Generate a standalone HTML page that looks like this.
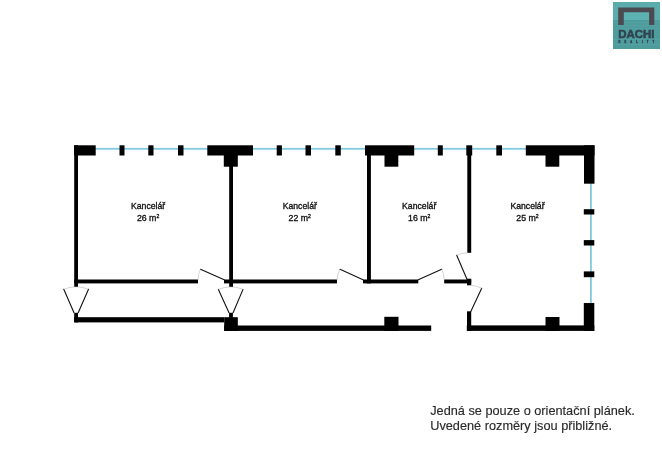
<!DOCTYPE html>
<html lang="cs">
<head>
<meta charset="utf-8">
<title>Půdorys – orientační plánek</title>
<style>
html,body{margin:0;padding:0;background:#fff;}
body{width:662px;height:468px;overflow:hidden;position:relative;font-family:"Liberation Sans",sans-serif;}
svg{position:absolute;left:0;top:0;display:block;}
.room,.note{filter:blur(0.3px);}
text{font-family:"Liberation Sans",sans-serif;}
.room{font-size:8.5px;fill:#111;stroke:#111;stroke-width:0.32px;text-anchor:middle;}
.note{font-size:12.74px;fill:#2a2a2a;stroke:#2a2a2a;stroke-width:0.15px;}
</style>
</head>
<body>
<svg width="662" height="468" viewBox="0 0 662 468">
<rect width="662" height="468" fill="#fff"/>

<!-- windows -->
<g fill="#82cadd">
<rect x="95" y="147.9" width="431" height="1.8"/>
<rect x="590" y="183" width="1.8" height="121"/>
</g>

<!-- walls -->
<g fill="#000">
<!-- top band -->
<rect x="74" y="145.3" width="21.7" height="10.2"/>
<rect x="119.5" y="145.3" width="5" height="10.2"/>
<rect x="148.3" y="145.3" width="5.2" height="10.2"/>
<rect x="178" y="145.3" width="5.5" height="10.2"/>
<rect x="207.3" y="145.3" width="45.7" height="10.2"/>
<rect x="223.8" y="150" width="14" height="16.7"/>
<rect x="276.7" y="145.3" width="5.2" height="10.2"/>
<rect x="305.5" y="145.3" width="5.5" height="10.2"/>
<rect x="335.3" y="145.3" width="5.5" height="10.2"/>
<rect x="365" y="145.3" width="49.2" height="10.2"/>
<rect x="384.5" y="150" width="13.8" height="16.7"/>
<rect x="437.8" y="145.3" width="5" height="10.2"/>
<rect x="466.3" y="145.3" width="5.9" height="10.2"/>
<rect x="496.3" y="145.3" width="5.7" height="10.2"/>
<rect x="525.8" y="145.3" width="68.7" height="10.2"/>
<rect x="545.5" y="150" width="13.8" height="16.7"/>
<rect x="584" y="145.3" width="10.5" height="38.4"/>
<!-- right side -->
<rect x="583.8" y="209.2" width="10.5" height="5.3"/>
<rect x="583.8" y="240.1" width="10.5" height="5.4"/>
<rect x="583.8" y="271.4" width="10.5" height="5.8"/>
<rect x="583.8" y="303" width="10.5" height="27.9"/>
<rect x="466.8" y="325.4" width="127.5" height="5.5"/>
<rect x="545.5" y="317" width="14" height="13.9"/>
<rect x="467" y="311.3" width="4.2" height="19.6"/>
<!-- vertical walls -->
<rect x="74.2" y="145.3" width="3.8" height="141.7"/>
<rect x="229.2" y="155" width="3.8" height="132"/>
<rect x="367" y="155" width="3.9" height="128.4"/>
<rect x="467.3" y="155" width="3.9" height="97.8"/>
<!-- horizontal inner walls -->
<rect x="74.2" y="279.5" width="123.8" height="3.9"/>
<rect x="224" y="279.5" width="113" height="3.9"/>
<rect x="363" y="279.5" width="55.3" height="3.9"/>
<rect x="444.2" y="279.5" width="27" height="3.9"/>
<rect x="467" y="278.7" width="4.2" height="6.6"/>
<!-- bottom left corridor -->
<rect x="74.2" y="312.8" width="3.8" height="9.6"/>
<rect x="74.2" y="317.2" width="150" height="5.2"/>
<rect x="224.2" y="317.2" width="13.6" height="13.7"/>
<rect x="229.1" y="312.8" width="3.8" height="5"/>
<rect x="224.2" y="325.5" width="207" height="5.4"/>
<rect x="384.3" y="316.8" width="14.2" height="14.1"/>
</g>

<!-- doors -->
<g fill="none" stroke="#111" stroke-width="1.1" stroke-linecap="round">
<line x1="200.5" y1="269.2" x2="224.2" y2="279.7"/>
<line x1="340" y1="269.2" x2="363" y2="279.7"/>
<line x1="418.3" y1="279.7" x2="441.7" y2="269.2"/>
<line x1="467.3" y1="280" x2="456.7" y2="255.3"/>
<line x1="470.8" y1="311.5" x2="481.7" y2="288.3"/>
<line x1="63.8" y1="289.3" x2="74" y2="312.8"/>
<line x1="88.5" y1="289.3" x2="78.2" y2="312.8"/>
<line x1="218.4" y1="289.4" x2="229" y2="312.8"/>
<line x1="243" y1="289.4" x2="233.1" y2="312.8"/>
</g>
<g fill="none" stroke="#a8a8a8" stroke-width="0.5">
<path d="M198 280 A26 26 0 0 1 200.5 269.2"/>
<path d="M337 280 A26 26 0 0 1 340 269.2"/>
<path d="M441.7 269.2 A26 26 0 0 1 444.3 280"/>
<path d="M456.7 255.3 A27 27 0 0 1 467.5 252.8"/>
<path d="M471 285.3 A26 26 0 0 1 481.7 288.3"/>
<path d="M63.8 289.3 A32 32 0 0 1 88.5 289.3"/>
<path d="M218.4 289.4 A32 32 0 0 1 243 289.4"/>
</g>

<!-- room labels -->
<g class="room">
<text x="148.1" y="209.1" textLength="34.2" lengthAdjust="spacingAndGlyphs">Kancelář</text>
<text x="148.1" y="220.7" textLength="22.4" lengthAdjust="spacingAndGlyphs">26 m<tspan font-size="5" dy="-3">2</tspan></text>
<text x="299.8" y="209.1" textLength="34.2" lengthAdjust="spacingAndGlyphs">Kancelář</text>
<text x="299.8" y="220.7" textLength="22.4" lengthAdjust="spacingAndGlyphs">22 m<tspan font-size="5" dy="-3">2</tspan></text>
<text x="419.2" y="209.1" textLength="34.2" lengthAdjust="spacingAndGlyphs">Kancelář</text>
<text x="419.2" y="220.7" textLength="22.4" lengthAdjust="spacingAndGlyphs">16 m<tspan font-size="5" dy="-3">2</tspan></text>
<text x="527.5" y="209.1" textLength="34.2" lengthAdjust="spacingAndGlyphs">Kancelář</text>
<text x="527.5" y="220.7" textLength="22.4" lengthAdjust="spacingAndGlyphs">25 m<tspan font-size="5" dy="-3">2</tspan></text>
</g>

<!-- note -->
<g class="note">
<text x="430.2" y="414.6">Jedná se pouze o orientační plánek.</text>
<text x="430.2" y="430">Uvedené rozměry jsou přibližné.</text>
</g>

<!-- logo -->
<g>
<rect x="613" y="2" width="47" height="47" fill="#5bacab"/>
<rect x="613" y="20" width="47" height="29" fill="#4f9c9d"/>
<rect x="623.8" y="12.2" width="25.3" height="7.8" fill="#5cb2b1"/>
<g stroke="#5fadae" stroke-width="0.5" opacity="0.6" fill="none">
<path d="M613 22.5 h47 M613 25.5 h47 M613 28.5 h47 M613 39.5 h47 M613 44.5 h47"/>
</g>
<path d="M618.2 7.5 H654.3 V25.1 H649.1 V12.2 H623.8 V25.1 H618.2 Z" fill="#4a4a50"/>
<g style="filter:blur(0.3px)"><text x="618.3" y="37.8" font-size="10" font-weight="bold" fill="#2f4350" stroke="#2f4350" stroke-width="0.5" textLength="36.2" lengthAdjust="spacingAndGlyphs">DACHI</text>
<text x="618.6" y="42.9" font-size="2.6" font-weight="bold" fill="#2f4350" stroke="#2f4350" stroke-width="0.3" textLength="35.6" lengthAdjust="spacing">REALITY</text></g>
</g>
</svg>
</body>
</html>
